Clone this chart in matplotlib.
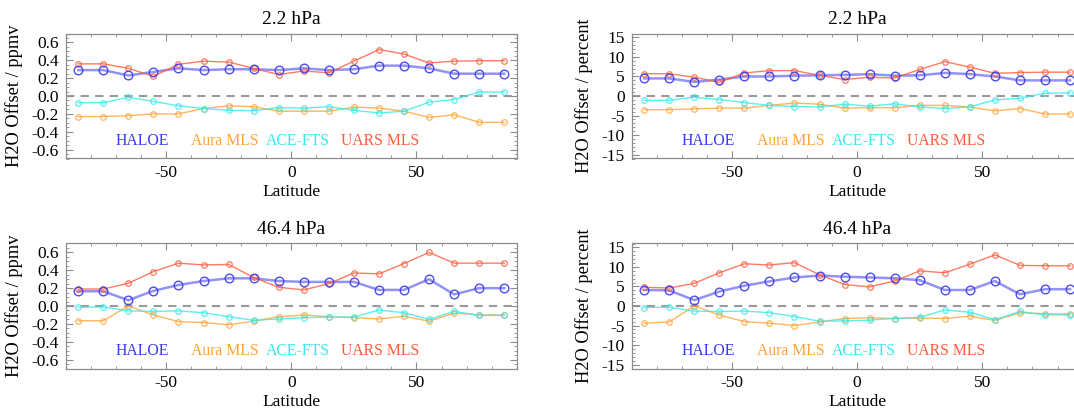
import matplotlib
matplotlib.use("Agg")
import matplotlib.pyplot as plt
from matplotlib.ticker import MultipleLocator

plt.rcParams["font.family"] = ["Liberation Serif", "DejaVu Serif"]
plt.rcParams["axes.unicode_minus"] = False

lat = [-85, -75, -65, -55, -45, -35, -25, -15, -5, 5, 15, 25, 35, 45, 55, 65, 75, 85]

# 2.2 hPa, ppmv
haloe_22_ppmv = [0.29, 0.29, 0.23, 0.27, 0.31, 0.29, 0.30, 0.30, 0.29, 0.31, 0.29, 0.30, 0.34, 0.34, 0.31, 0.25, 0.25, 0.25]
aura_22_ppmv = [-0.23, -0.23, -0.22, -0.20, -0.20, -0.14, -0.11, -0.12, -0.17, -0.17, -0.17, -0.125, -0.135, -0.17, -0.24, -0.21, -0.295, -0.295]
ace_22_ppmv = [-0.075, -0.075, -0.015, -0.06, -0.11, -0.14, -0.16, -0.165, -0.13, -0.135, -0.12, -0.16, -0.19, -0.17, -0.07, -0.04, 0.045, 0.045]
uars_22_ppmv = [0.36, 0.36, 0.31, 0.22, 0.355, 0.39, 0.38, 0.31, 0.24, 0.28, 0.26, 0.39, 0.52, 0.47, 0.37, 0.39, 0.395, 0.395]

# 2.2 hPa, percent
haloe_22_pct = [4.5, 4.5, 3.6, 4.2, 5.0, 5.0, 5.2, 5.3, 5.4, 5.6, 5.2, 5.3, 5.9, 5.6, 5.0, 4.0, 4.0, 4.0]
aura_22_pct = [-3.5, -3.5, -3.3, -3.1, -3.1, -2.4, -1.8, -2.1, -3.1, -3.0, -3.0, -2.4, -2.4, -2.8, -3.8, -3.2, -4.6, -4.6]
ace_22_pct = [-1.1, -1.1, -0.3, -0.9, -1.7, -2.4, -2.7, -2.8, -2.1, -2.6, -2.0, -2.8, -3.2, -2.8, -1.0, -0.6, 0.7, 0.8]
uars_22_pct = [5.7, 5.7, 4.8, 3.5, 5.9, 6.5, 6.5, 5.3, 4.2, 4.8, 4.6, 6.8, 8.8, 7.4, 5.8, 6.0, 6.1, 6.1]

# 46.4 hPa, ppmv
haloe_46_ppmv = [0.165, 0.165, 0.065, 0.17, 0.235, 0.28, 0.31, 0.31, 0.28, 0.27, 0.27, 0.27, 0.18, 0.18, 0.30, 0.13, 0.20, 0.20]
aura_46_ppmv = [-0.165, -0.165, 0.0, -0.10, -0.175, -0.185, -0.21, -0.17, -0.12, -0.10, -0.12, -0.13, -0.145, -0.115, -0.17, -0.08, -0.10, -0.10]
ace_46_ppmv = [-0.015, -0.01, -0.055, -0.06, -0.055, -0.075, -0.12, -0.16, -0.145, -0.13, -0.125, -0.125, -0.045, -0.075, -0.15, -0.06, -0.105, -0.105]
uars_46_ppmv = [0.19, 0.19, 0.255, 0.385, 0.48, 0.46, 0.465, 0.32, 0.21, 0.18, 0.25, 0.37, 0.36, 0.475, 0.60, 0.48, 0.48, 0.48]

# 46.4 hPa, percent
haloe_46_pct = [4.1, 4.0, 1.5, 3.7, 5.2, 6.3, 7.3, 7.8, 7.5, 7.3, 7.1, 6.6, 4.1, 4.1, 6.4, 3.0, 4.3, 4.3]
aura_46_pct = [-4.4, -4.1, 0.0, -2.3, -4.0, -4.4, -5.0, -4.1, -3.2, -3.0, -3.2, -3.1, -3.2, -2.6, -3.7, -1.7, -2.0, -2.0]
ace_46_pct = [-0.4, -0.3, -1.3, -1.4, -1.3, -1.7, -2.7, -3.9, -3.8, -3.6, -3.2, -2.9, -1.0, -1.6, -3.5, -1.4, -2.3, -2.3]
uars_46_pct = [4.8, 4.6, 5.8, 8.5, 10.8, 10.5, 11.1, 8.0, 5.5, 4.9, 6.4, 9.0, 8.5, 10.7, 13.1, 10.4, 10.3, 10.3]

names = ["HALOE", "Aura MLS", "ACE-FTS", "UARS MLS"]
name_x = [-70, -40, -10, 20]
colors = ["#3a3aee", "#ffa436", "#35eaea", "#ff5a3c"]

panels = [
    ("2.2 hPa", "H2O Offset / ppmv", 0.7, 0.05,
     [haloe_22_ppmv, aura_22_ppmv, ace_22_ppmv, uars_22_ppmv]),
    ("2.2 hPa", "H2O Offset / percent", 16, 1,
     [haloe_22_pct, aura_22_pct, ace_22_pct, uars_22_pct]),
    ("46.4 hPa", "H2O Offset / ppmv", 0.7, 0.05,
     [haloe_46_ppmv, aura_46_ppmv, ace_46_ppmv, uars_46_ppmv]),
    ("46.4 hPa", "H2O Offset / percent", 16, 1,
     [haloe_46_pct, aura_46_pct, ace_46_pct, uars_46_pct]),
]

W, H = 1074, 411
fig = plt.figure(figsize=(W / 100, H / 100), dpi=100)
lefts = [65.7, 631.6]
tops = [33.5, 243.5]
aw, ah = 451, 125

for i, (title, ylab, ylim, minor, series) in enumerate(panels):
    col, row = i % 2, i // 2
    ax = fig.add_axes([lefts[col] / W, 1 - (tops[row] + ah) / H, aw / W, ah / H])

    ax.axhline(0, color="#9a9a9a", lw=1.5, ls=(0, (4, 3)), zorder=1)
    for k, (vals, c) in enumerate(zip(series, colors)):
        if k == 0:
            # HALOE: wide pale line with bigger open circles
            ax.plot(lat, vals, color=c, lw=1.8, alpha=0.55, zorder=2)
            ax.plot(lat, vals, ls="none", marker="o", ms=6.2, mfc="none",
                    mec=c, mew=1.0, alpha=0.9, zorder=3)
        else:
            ax.plot(lat, vals, color=c, lw=1.0, marker="o", ms=4.0, mfc="none",
                    mew=0.9, alpha=0.8, zorder=2)
        ax.text(name_x[k], -0.72 * ylim, names[k], color=c, fontsize=11.3,
                ha="left", va="center")

    ax.set_xlim(-90, 90)
    ax.set_ylim(-ylim, ylim)
    ax.xaxis.set_minor_locator(MultipleLocator(10))
    ax.yaxis.set_minor_locator(MultipleLocator(minor))
    if ylim < 1:
        ticks = [-0.6, -0.4, -0.2, 0.0, 0.2, 0.4, 0.6]
        ax.set_yticks(ticks)
        ax.set_yticklabels([f"{v:.1f}" for v in ticks])
    else:
        ax.set_yticks([-15, -10, -5, 0, 5, 10, 15])
    ax.set_xticks([-50, 0, 50])

    for s in ax.spines.values():
        s.set_color("#8c8c8c")
        s.set_linewidth(0.9)
    ax.tick_params(which="both", direction="in", top=True, right=True,
                   color="#8c8c8c", labelsize=12.5)
    ax.tick_params(which="major", length=5, width=0.8, pad=5)
    ax.tick_params(which="minor", length=2.5, width=0.6)

    ax.set_title(title, fontsize=14, pad=7)
    ax.set_xlabel("Latitude", fontsize=12.5)
    ax.xaxis.set_label_coords(0.5, -0.2)
    ax.set_ylabel(ylab, fontsize=13.2)
    ax.yaxis.set_label_coords(-0.095 if col == 0 else -0.085, 0.5)

fig.savefig("out.png", dpi=100, facecolor="white")
